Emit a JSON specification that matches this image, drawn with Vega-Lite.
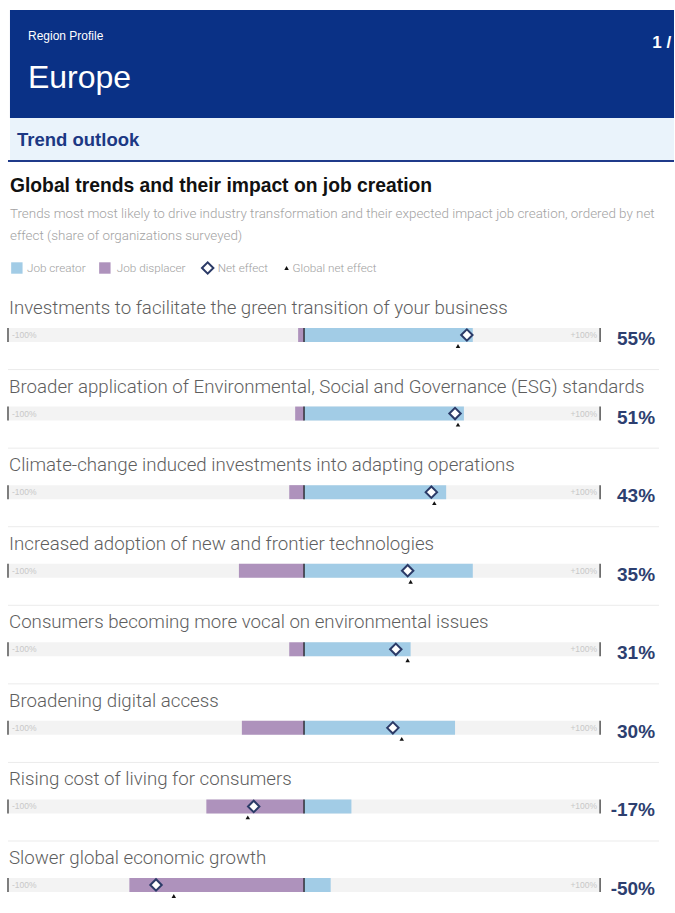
{
  "$schema": "https://vega.github.io/schema/vega-lite/v6.json",
  "width": 675,
  "height": 913,
  "autosize": {"type": "fit", "contains": "padding"},
  "padding": 0,
  "background": "white",
  "config": {"view": {"stroke": null}, "text": {"font": "Liberation Sans"}},
  "datasets": {
    "trends": [
      {"trend": "Investments to facilitate the green transition of your business", "rank": 1, "creator": 57, "displacer": -2, "net": 55, "global": 52, "label": "55%"},
      {"trend": "Broader application of Environmental, Social and Governance (ESG) standards", "rank": 2, "creator": 54, "displacer": -3, "net": 51, "global": 52, "label": "51%"},
      {"trend": "Climate-change induced investments into adapting operations", "rank": 3, "creator": 48, "displacer": -5, "net": 43, "global": 44, "label": "43%"},
      {"trend": "Increased adoption of new and frontier technologies", "rank": 4, "creator": 57, "displacer": -22, "net": 35, "global": 36, "label": "35%"},
      {"trend": "Consumers becoming more vocal on environmental issues", "rank": 5, "creator": 36, "displacer": -5, "net": 31, "global": 35, "label": "31%"},
      {"trend": "Broadening digital access", "rank": 6, "creator": 51, "displacer": -21, "net": 30, "global": 33, "label": "30%"},
      {"trend": "Rising cost of living for consumers", "rank": 7, "creator": 16, "displacer": -33, "net": -17, "global": -19, "label": "-17%"},
      {"trend": "Slower global economic growth", "rank": 8, "creator": 9, "displacer": -59, "net": -50, "global": -44, "label": "-50%"}
    ]
  },
  "data": {"name": "trends"},
  "layer": [
    {
      "data": {"values": [{}]},
      "mark": {"type": "rect", "fill": "#0a3186"},
      "encoding": {
        "x": {"datum": -99.33, "type": "quantitative", "scale": {"domain": [-102.698, 124.96], "nice": false, "zero": false}, "axis": null},
        "x2": {"datum": 124.96},
        "y": {"datum": -3.1365, "type": "quantitative", "scale": {"domain": [-3.2637, 8.3565], "reverse": true, "nice": false, "zero": false}, "axis": null},
        "y2": {"datum": -1.7619}
      }
    },
    {
      "data": {"values": [{}]},
      "mark": {"type": "rect", "fill": "#eaf3fb"},
      "encoding": {
        "x": {"datum": -99.33, "type": "quantitative", "scale": {"domain": [-102.698, 124.96], "nice": false, "zero": false}, "axis": null},
        "x2": {"datum": 124.96},
        "y": {"datum": -1.7619, "type": "quantitative", "scale": {"domain": [-3.2637, 8.3565], "reverse": true, "nice": false, "zero": false}, "axis": null},
        "y2": {"datum": -1.2273}
      }
    },
    {
      "data": {"values": [{}]},
      "mark": {"type": "rule", "stroke": "#1f3a8a", "strokeWidth": 2},
      "encoding": {
        "x": {"datum": -100, "type": "quantitative", "scale": {"domain": [-102.698, 124.96], "nice": false, "zero": false}, "axis": null},
        "x2": {"datum": 124.96},
        "y": {"datum": -1.2146, "type": "quantitative", "scale": {"domain": [-3.2637, 8.3565], "reverse": true, "nice": false, "zero": false}, "axis": null}
      }
    },
    {
      "data": {"values": [{"t": "Region Profile"}]},
      "mark": {"type": "text", "align": "left", "baseline": "alphabetic", "fontSize": 12, "color": "white"},
      "encoding": {
        "x": {"datum": -93.25, "type": "quantitative", "scale": {"domain": [-102.698, 124.96], "nice": false, "zero": false}, "axis": null},
        "y": {"datum": -2.7546, "type": "quantitative", "scale": {"domain": [-3.2637, 8.3565], "reverse": true, "nice": false, "zero": false}, "axis": null},
        "text": {"field": "t"}
      }
    },
    {
      "data": {"values": [{"t": "Europe"}]},
      "mark": {"type": "text", "align": "left", "baseline": "alphabetic", "fontSize": 32, "color": "white"},
      "encoding": {
        "x": {"datum": -93.25, "type": "quantitative", "scale": {"domain": [-102.698, 124.96], "nice": false, "zero": false}, "axis": null},
        "y": {"datum": -2.1437, "type": "quantitative", "scale": {"domain": [-3.2637, 8.3565], "reverse": true, "nice": false, "zero": false}, "axis": null},
        "text": {"field": "t"}
      }
    },
    {
      "data": {"values": [{"t": "1 /"}]},
      "mark": {"type": "text", "align": "left", "baseline": "alphabetic", "fontSize": 17, "fontWeight": "bold", "color": "white"},
      "encoding": {
        "x": {"datum": 117.6, "type": "quantitative", "scale": {"domain": [-102.698, 124.96], "nice": false, "zero": false}, "axis": null},
        "y": {"datum": -2.6528, "type": "quantitative", "scale": {"domain": [-3.2637, 8.3565], "reverse": true, "nice": false, "zero": false}, "axis": null},
        "text": {"field": "t"}
      }
    },
    {
      "data": {"values": [{"t": "Trend outlook"}]},
      "mark": {"type": "text", "align": "left", "baseline": "alphabetic", "fontSize": 18.5, "fontWeight": "bold", "color": "#1c3884"},
      "encoding": {
        "x": {"datum": -96.96, "type": "quantitative", "scale": {"domain": [-102.698, 124.96], "nice": false, "zero": false}, "axis": null},
        "y": {"datum": -1.4055, "type": "quantitative", "scale": {"domain": [-3.2637, 8.3565], "reverse": true, "nice": false, "zero": false}, "axis": null},
        "text": {"field": "t"}
      }
    },
    {
      "data": {"values": [{"t": "Global trends and their impact on job creation"}]},
      "mark": {"type": "text", "align": "left", "baseline": "alphabetic", "fontSize": 19.3, "fontWeight": "bold", "color": "#111111"},
      "encoding": {
        "x": {"datum": -99.33, "type": "quantitative", "scale": {"domain": [-102.698, 124.96], "nice": false, "zero": false}, "axis": null},
        "y": {"datum": -0.82, "type": "quantitative", "scale": {"domain": [-3.2637, 8.3565], "reverse": true, "nice": false, "zero": false}, "axis": null},
        "text": {"field": "t"}
      }
    },
    {
      "data": {"values": [{}]},
      "mark": {"type": "text", "align": "left", "baseline": "alphabetic", "fontSize": 13.4, "font": "Roboto", "fontWeight": 300, "color": "#a3a3a3", "lineHeight": 22},
      "encoding": {
        "x": {"datum": -99.33, "type": "quantitative", "scale": {"domain": [-102.698, 124.96], "nice": false, "zero": false}, "axis": null},
        "y": {"datum": -0.4891, "type": "quantitative", "scale": {"domain": [-3.2637, 8.3565], "reverse": true, "nice": false, "zero": false}, "axis": null},
        "text": {"value": ["Trends most most likely to drive industry transformation and their expected impact job creation, ordered by net", "effect (share of organizations surveyed)"]}
      }
    },
    {
      "data": {"values": [{"c": "#a2cce6", "x": -97.0}, {"c": "#ae92bc", "x": -67.28}]},
      "mark": {"type": "point", "shape": "square", "filled": true, "size": 130, "opacity": 1},
      "encoding": {
        "x": {"field": "x", "type": "quantitative", "scale": {"domain": [-102.698, 124.96], "nice": false, "zero": false}, "axis": null},
        "y": {"datum": 0.1473, "type": "quantitative", "scale": {"domain": [-3.2637, 8.3565], "reverse": true, "nice": false, "zero": false}, "axis": null},
        "color": {"field": "c", "type": "nominal", "scale": null, "legend": null}
      }
    },
    {
      "data": {"values": [{"t": "Job creator", "x": -93.59}, {"t": "Job displacer", "x": -63.24}, {"t": "Net effect", "x": -29.17}, {"t": "Global net effect", "x": -3.88}]},
      "mark": {"type": "text", "align": "left", "baseline": "middle", "fontSize": 11.7, "font": "Roboto", "fontWeight": 300, "color": "#9e9e9e"},
      "encoding": {
        "x": {"field": "x", "type": "quantitative", "scale": {"domain": [-102.698, 124.96], "nice": false, "zero": false}, "axis": null},
        "y": {"datum": 0.1473, "type": "quantitative", "scale": {"domain": [-3.2637, 8.3565], "reverse": true, "nice": false, "zero": false}, "axis": null},
        "text": {"field": "t"}
      }
    },
    {
      "data": {"values": [{}]},
      "mark": {"type": "point", "shape": "diamond", "filled": false, "fill": "white", "stroke": "#2b3a67", "strokeWidth": 2, "size": 130, "opacity": 1},
      "encoding": {
        "x": {"datum": -32.55, "type": "quantitative", "scale": {"domain": [-102.698, 124.96], "nice": false, "zero": false}, "axis": null},
        "y": {"datum": 0.1473, "type": "quantitative", "scale": {"domain": [-3.2637, 8.3565], "reverse": true, "nice": false, "zero": false}, "axis": null}
      }
    },
    {
      "data": {"values": [{}]},
      "mark": {"type": "point", "shape": "triangle-up", "filled": true, "color": "#111111", "size": 20, "opacity": 1},
      "encoding": {
        "x": {"datum": -5.9, "type": "quantitative", "scale": {"domain": [-102.698, 124.96], "nice": false, "zero": false}, "axis": null},
        "y": {"datum": 0.1473, "type": "quantitative", "scale": {"domain": [-3.2637, 8.3565], "reverse": true, "nice": false, "zero": false}, "axis": null}
      }
    },
    {
      "transform": [{"filter": "datum.rank >= 2"}],
      "mark": {"type": "rule", "stroke": "#ebebeb", "strokeWidth": 1, "yOffset": -44},
      "encoding": {
        "x": {"datum": -100, "type": "quantitative", "scale": {"domain": [-102.698, 124.96], "nice": false, "zero": false}, "axis": null},
        "x2": {"datum": 119.9},
        "y": {"field": "rank", "type": "quantitative", "scale": {"domain": [-3.2637, 8.3565], "reverse": true, "nice": false, "zero": false}, "axis": null}
      }
    },
    {
      "mark": {"type": "text", "align": "left", "baseline": "alphabetic", "dy": -21, "fontSize": 18.7, "font": "Roboto", "fontWeight": 300, "color": "#5e5e5e"},
      "encoding": {
        "x": {"datum": -99.66, "type": "quantitative", "scale": {"domain": [-102.698, 124.96], "nice": false, "zero": false}, "axis": null},
        "y": {"field": "rank", "type": "quantitative", "scale": {"domain": [-3.2637, 8.3565], "reverse": true, "nice": false, "zero": false}, "axis": null},
        "text": {"field": "trend"}
      }
    },
    {
      "mark": {"type": "rule", "stroke": "#f3f3f3", "strokeWidth": 14},
      "encoding": {
        "x": {"datum": -100, "type": "quantitative", "scale": {"domain": [-102.698, 124.96], "nice": false, "zero": false}, "axis": null},
        "x2": {"datum": 100},
        "y": {"field": "rank", "type": "quantitative", "scale": {"domain": [-3.2637, 8.3565], "reverse": true, "nice": false, "zero": false}, "axis": null}
      }
    },
    {
      "mark": {"type": "rule", "stroke": "#ae92bc", "strokeWidth": 14},
      "encoding": {
        "x": {"field": "displacer", "type": "quantitative", "scale": {"domain": [-102.698, 124.96], "nice": false, "zero": false}, "axis": null},
        "x2": {"datum": 0},
        "y": {"field": "rank", "type": "quantitative", "scale": {"domain": [-3.2637, 8.3565], "reverse": true, "nice": false, "zero": false}, "axis": null}
      }
    },
    {
      "mark": {"type": "rule", "stroke": "#a2cce6", "strokeWidth": 14},
      "encoding": {
        "x": {"field": "creator", "type": "quantitative", "scale": {"domain": [-102.698, 124.96], "nice": false, "zero": false}, "axis": null},
        "x2": {"datum": 0},
        "y": {"field": "rank", "type": "quantitative", "scale": {"domain": [-3.2637, 8.3565], "reverse": true, "nice": false, "zero": false}, "axis": null}
      }
    },
    {
      "mark": {"type": "tick", "orient": "vertical", "color": "#111111", "thickness": 1.2, "size": 14, "opacity": 1},
      "encoding": {
        "x": {"datum": 0, "type": "quantitative", "scale": {"domain": [-102.698, 124.96], "nice": false, "zero": false}, "axis": null},
        "y": {"field": "rank", "type": "quantitative", "scale": {"domain": [-3.2637, 8.3565], "reverse": true, "nice": false, "zero": false}, "axis": null}
      }
    },
    {
      "mark": {"type": "tick", "orient": "vertical", "color": "#555555", "thickness": 1.5, "size": 14, "opacity": 1},
      "encoding": {
        "x": {"datum": -100, "type": "quantitative", "scale": {"domain": [-102.698, 124.96], "nice": false, "zero": false}, "axis": null},
        "y": {"field": "rank", "type": "quantitative", "scale": {"domain": [-3.2637, 8.3565], "reverse": true, "nice": false, "zero": false}, "axis": null}
      }
    },
    {
      "mark": {"type": "tick", "orient": "vertical", "color": "#555555", "thickness": 1.5, "size": 14, "opacity": 1},
      "encoding": {
        "x": {"datum": 100, "type": "quantitative", "scale": {"domain": [-102.698, 124.96], "nice": false, "zero": false}, "axis": null},
        "y": {"field": "rank", "type": "quantitative", "scale": {"domain": [-3.2637, 8.3565], "reverse": true, "nice": false, "zero": false}, "axis": null}
      }
    },
    {
      "mark": {"type": "text", "align": "left", "baseline": "middle", "fontSize": 8.5, "color": "#c8c8c8"},
      "encoding": {
        "x": {"datum": -98.65, "type": "quantitative", "scale": {"domain": [-102.698, 124.96], "nice": false, "zero": false}, "axis": null},
        "y": {"field": "rank", "type": "quantitative", "scale": {"domain": [-3.2637, 8.3565], "reverse": true, "nice": false, "zero": false}, "axis": null},
        "text": {"value": "-100%"}
      }
    },
    {
      "mark": {"type": "text", "align": "right", "baseline": "middle", "fontSize": 8.5, "color": "#c8c8c8"},
      "encoding": {
        "x": {"datum": 98.99, "type": "quantitative", "scale": {"domain": [-102.698, 124.96], "nice": false, "zero": false}, "axis": null},
        "y": {"field": "rank", "type": "quantitative", "scale": {"domain": [-3.2637, 8.3565], "reverse": true, "nice": false, "zero": false}, "axis": null},
        "text": {"value": "+100%"}
      }
    },
    {
      "mark": {"type": "point", "shape": "diamond", "filled": false, "fill": "white", "stroke": "#2b3a67", "strokeWidth": 2, "size": 130, "opacity": 1},
      "encoding": {
        "x": {"field": "net", "type": "quantitative", "scale": {"domain": [-102.698, 124.96], "nice": false, "zero": false}, "axis": null},
        "y": {"field": "rank", "type": "quantitative", "scale": {"domain": [-3.2637, 8.3565], "reverse": true, "nice": false, "zero": false}, "axis": null}
      }
    },
    {
      "mark": {"type": "point", "shape": "triangle-up", "filled": true, "color": "#111111", "size": 20, "opacity": 1, "yOffset": 11},
      "encoding": {
        "x": {"field": "global", "type": "quantitative", "scale": {"domain": [-102.698, 124.96], "nice": false, "zero": false}, "axis": null},
        "y": {"field": "rank", "type": "quantitative", "scale": {"domain": [-3.2637, 8.3565], "reverse": true, "nice": false, "zero": false}, "axis": null}
      }
    },
    {
      "mark": {"type": "text", "align": "right", "baseline": "alphabetic", "dy": 10, "fontSize": 19, "fontWeight": "bold", "color": "#2d3f70"},
      "encoding": {
        "x": {"datum": 118.55, "type": "quantitative", "scale": {"domain": [-102.698, 124.96], "nice": false, "zero": false}, "axis": null},
        "y": {"field": "rank", "type": "quantitative", "scale": {"domain": [-3.2637, 8.3565], "reverse": true, "nice": false, "zero": false}, "axis": null},
        "text": {"field": "label"}
      }
    }
  ]
}
